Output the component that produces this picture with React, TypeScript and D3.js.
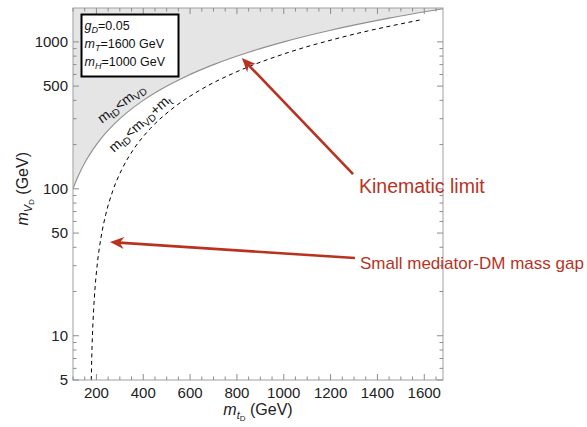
import React from "react";
import * as d3 from "d3";

const W = 587, H = 427;
const M = { left: 73, right: 443, top: 8, bottom: 380 };

const xDomain = [100, 1680];
const yDomain = [5, 1700];
const xMajor = [200, 400, 600, 800, 1000, 1200, 1400, 1600];
const xMinorStep = 50;
const yMajor = [5, 10, 50, 100, 500, 1000];
const yMinor = [6, 7, 8, 9, 20, 30, 40, 60, 70, 80, 90, 200, 300, 400, 600, 700, 800, 900];

// kinematic limit m_tD = m_VD
const kinX = [100, 110, 120, 135, 150, 175, 200, 240, 280, 330, 400, 480, 580, 700, 850, 1000, 1200, 1450, 1700];
const kinY = [100, 110, 120, 135, 150, 175, 200, 240, 280, 330, 400, 480, 580, 700, 850, 1000, 1200, 1450, 1700];
// m_tD = m_VD + m_t
const gapX = [178, 180, 183, 188, 195, 205, 220, 240, 270, 310, 360, 430, 520, 640, 800, 1000, 1250, 1580];
const gapY = [5, 7, 10, 15, 22, 32, 47, 67, 97, 137, 187, 257, 347, 467, 627, 827, 1077, 1407];

const RED = "#b8331f";
const FONT = "'Liberation Sans', Arial, Helvetica, sans-serif";

function arrowHead(x1: number, y1: number, x2: number, y2: number, len = 14, half = 6) {
  const a = Math.atan2(y2 - y1, x2 - x1);
  const ux = Math.cos(a), uy = Math.sin(a);
  const bx = x2 - ux * len, by = y2 - uy * len;
  const nx = -uy, ny = ux;
  const notchX = x2 - ux * len * 0.7, notchY = y2 - uy * len * 0.7;
  return `M${x2},${y2} L${bx + nx * half},${by + ny * half} L${notchX},${notchY} L${bx - nx * half},${by - ny * half} Z`;
}

export default function App() {
  const x = d3.scaleLinear().domain(xDomain).range([M.left, M.right]);
  const y = d3.scaleLog().domain(yDomain).range([M.bottom, M.top]);

  const kinPts: [number, number][] = kinX.map((v, i) => [x(v), y(kinY[i])]);
  const gapPts: [number, number][] = gapX.map((v, i) => [x(v), y(gapY[i])]);
  const line = d3.line().curve(d3.curveMonotoneX);
  const kinPath = line(kinPts) || "";
  const gapPath = line(gapPts) || "";
  const last = kinPts[kinPts.length - 1];
  const shade = kinPath + ` L${last[0]},${M.top} L${M.left},${M.top} L${M.left},${kinPts[0][1]} Z`;

  const xMinor: number[] = [];
  for (let v = 100; v <= 1680; v += xMinorStep) if (!xMajor.includes(v)) xMinor.push(v);

  const frame = "#a0a0a0";
  const tickCol = "#8c8c8c";

  const arrows = [
    { from: [1296, 126], to: [821, 776] },
    { from: [1304, 33.8], to: [258, 43.4] },
  ];

  return (
    <svg width={W} height={H} style={{ position: "absolute", left: 0, top: 0, background: "#fff" }} fontFamily={FONT}>
      <defs>
        <clipPath id="plot">
          <rect x={M.left} y={M.top} width={M.right - M.left} height={M.bottom - M.top} />
        </clipPath>
      </defs>
      <g clipPath="url(#plot)">
        <path d={shade} fill="#e5e5e5" />
        <path d={kinPath} fill="none" stroke="#8f8f8f" strokeWidth={1.1} />
        <path d={gapPath} fill="none" stroke="#000" strokeWidth={1} strokeDasharray="4,3.5" />
      </g>
      {/* frame */}
      <rect x={M.left} y={M.top} width={M.right - M.left} height={M.bottom - M.top} fill="none" stroke={frame} strokeWidth={1} />
      {/* x ticks */}
      {xMajor.map((v) => (
        <g key={"xm" + v}>
          <line x1={x(v)} x2={x(v)} y1={M.bottom} y2={M.bottom - 6} stroke={tickCol} />
          <line x1={x(v)} x2={x(v)} y1={M.top} y2={M.top + 6} stroke={tickCol} />
          <text x={x(v)} y={M.bottom + 18} textAnchor="middle" fontSize={15} fill="#222">{v}</text>
        </g>
      ))}
      {xMinor.map((v) => (
        <g key={"xn" + v}>
          <line x1={x(v)} x2={x(v)} y1={M.bottom} y2={M.bottom - 3.5} stroke={tickCol} />
          <line x1={x(v)} x2={x(v)} y1={M.top} y2={M.top + 3.5} stroke={tickCol} />
        </g>
      ))}
      {/* y ticks */}
      {yMajor.map((v) => (
        <g key={"ym" + v}>
          <line x1={M.left} x2={M.left + 6} y1={y(v)} y2={y(v)} stroke={tickCol} />
          <line x1={M.right} x2={M.right - 6} y1={y(v)} y2={y(v)} stroke={tickCol} />
          <text x={M.left - 5} y={y(v) + 5} textAnchor="end" fontSize={15} fill="#222">{v}</text>
        </g>
      ))}
      {yMinor.map((v) => (
        <g key={"yn" + v}>
          <line x1={M.left} x2={M.left + 3.5} y1={y(v)} y2={y(v)} stroke={tickCol} />
          <line x1={M.right} x2={M.right - 3.5} y1={y(v)} y2={y(v)} stroke={tickCol} />
        </g>
      ))}
      {/* axis labels */}
      <text x={258} y={415} textAnchor="middle" fontSize={16} fill="#222">
        <tspan fontStyle="italic">m</tspan>
        <tspan fontStyle="italic" fontSize={11} dy={4}>t</tspan>
        <tspan fontSize={8} dy={2}>D</tspan>
        <tspan dy={-6}> (GeV)</tspan>
      </text>
      <text transform={`translate(28,${y(100)}) rotate(-90)`} textAnchor="middle" fontSize={16} fill="#222">
        <tspan fontStyle="italic">m</tspan>
        <tspan fontStyle="italic" fontSize={11} dy={4}>V</tspan>
        <tspan fontSize={8} dy={2}>D</tspan>
        <tspan dy={-6}> (GeV)</tspan>
      </text>
      {/* curve labels */}
      <text transform={`translate(124,107) rotate(-37)`} textAnchor="middle" fontSize={14} fill="#111">
        <tspan>m</tspan><tspan fontSize={10} dy={3}>tD</tspan><tspan dy={-3}>&lt;m</tspan><tspan fontSize={10} dy={3}>VD</tspan>
      </text>
      <text transform={`translate(143,127) rotate(-42)`} textAnchor="middle" fontSize={14} fill="#111">
        <tspan>m</tspan><tspan fontSize={10} dy={3}>tD</tspan><tspan dy={-3}>&lt;m</tspan><tspan fontSize={10} dy={3}>VD</tspan><tspan dy={-3}>+m</tspan><tspan fontSize={10} dy={3}>t</tspan>
      </text>
      {/* legend box */}
      <rect x={81.5} y={14.5} width={97} height={62} fill="#fff" stroke="#000" strokeWidth={2} />
      <g fontSize={12.5} fill="#111">
        <text x={84.5} y={30}>
          <tspan fontStyle="italic">g</tspan><tspan fontStyle="italic" fontSize={9} dy={3}>D</tspan><tspan dy={-3}>=0.05</tspan>
        </text>
        <text x={84.5} y={48}>
          <tspan fontStyle="italic">m</tspan><tspan fontStyle="italic" fontSize={9} dy={3}>T</tspan><tspan dy={-3}>=1600 GeV</tspan>
        </text>
        <text x={84.5} y={66}>
          <tspan fontStyle="italic">m</tspan><tspan fontStyle="italic" fontSize={9} dy={3}>H</tspan><tspan dy={-3}>=1000 GeV</tspan>
        </text>
      </g>
      {/* arrows */}
      {arrows.map((a, i) => {
        const x1 = x(a.from[0]), y1 = y(a.from[1]), x2 = x(a.to[0]), y2 = y(a.to[1]);
        const ang = Math.atan2(y2 - y1, x2 - x1);
        const ex = x2 - Math.cos(ang) * 9, ey = y2 - Math.sin(ang) * 9;
        return (
          <g key={"ar" + i}>
            <line x1={x1} y1={y1} x2={ex} y2={ey} stroke={RED} strokeWidth={2.6} />
            <path d={arrowHead(x1, y1, x2, y2)} fill={RED} />
          </g>
        );
      })}
      <text x={359} y={193} fontSize={19.5} fill={RED}>Kinematic limit</text>
      <text x={360} y={269} fontSize={17} fill={RED}>Small mediator-DM mass gap</text>
    </svg>
  );
}
